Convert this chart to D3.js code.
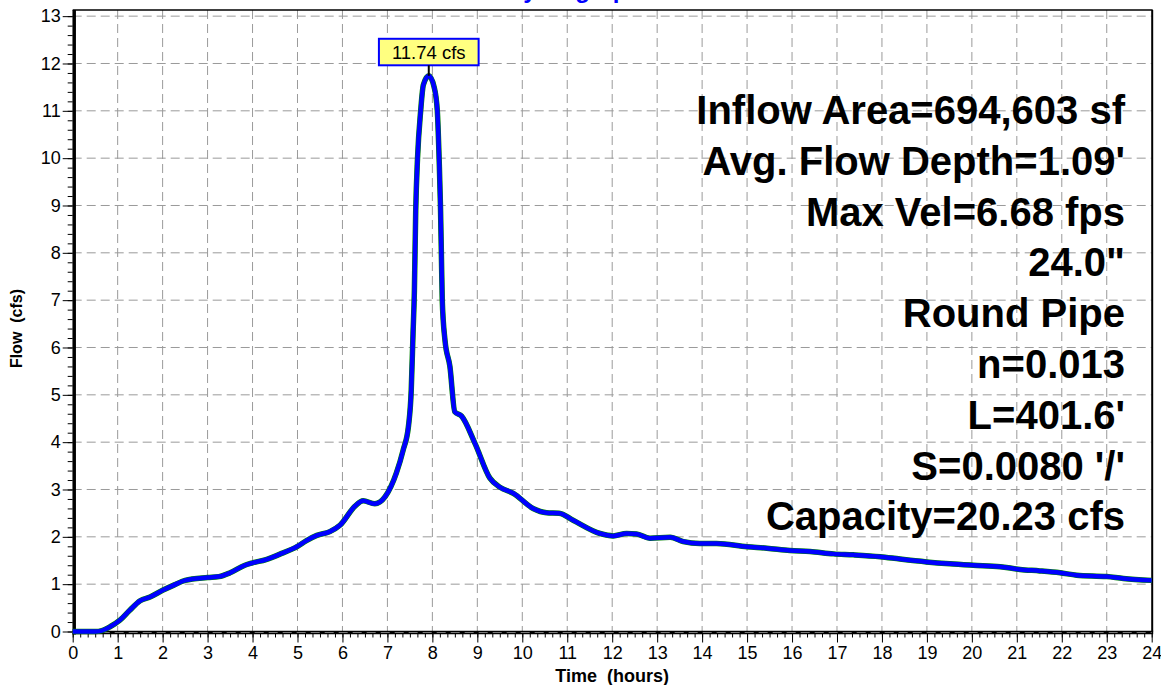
<!DOCTYPE html>
<html>
<head>
<meta charset="utf-8">
<script src="https://cdn.jsdelivr.net/npm/d3@7"></script>
<style>
  html, body { margin: 0; padding: 0; background: #fff; }
  svg { display: block; font-family: Arial, "Liberation Sans", sans-serif; }
</style>
</head>
<body>
<svg id="chart" width="1161" height="685"></svg>
<script>
// Reach hydrograph: time (hours) vs flow (cfs)
const timeHours = [0, 0.5, 0.65, 0.83, 1.05, 1.27, 1.5, 1.72, 2.0, 2.25, 2.5, 3.0, 3.25, 3.5, 3.83, 4.0, 4.3, 4.6, 5.0, 5.2,
  5.43, 5.72, 5.95, 6.28, 6.46, 6.72, 6.95, 7.2, 7.35, 7.47, 7.53, 7.57, 7.6, 7.63, 7.67, 7.74, 7.8, 7.92, 8.04, 8.11,
  8.15, 8.18, 8.2, 8.22, 8.28, 8.39, 8.5, 8.65, 8.95, 9.28, 9.5, 9.8, 10.24, 10.54, 10.82, 11.13, 11.73, 12.02, 12.32, 12.54,
  12.84, 13.29, 13.58, 13.95, 14.32, 15.0, 15.44, 15.95, 16.4, 16.92, 17.36, 17.96, 18.4, 18.99, 19.51, 20.03, 20.63, 21.07, 21.51, 21.96,
  22.33, 23.0, 23.37, 24.0];
const flowCfs = [0, 0, 0.02, 0.1, 0.24, 0.45, 0.65, 0.73, 0.87, 0.98, 1.08, 1.14, 1.16, 1.24, 1.40, 1.45, 1.52, 1.63, 1.80, 1.92,
  2.03, 2.11, 2.25, 2.65, 2.76, 2.70, 2.85, 3.35, 3.83, 4.35, 5.1, 6.3, 7.2, 8.9, 10.0, 11.0, 11.55, 11.74, 11.5, 11.0,
  10.0, 9.0, 8.0, 7.0, 6.16, 5.6, 4.64, 4.55, 3.97, 3.24, 3.05, 2.92, 2.6, 2.51, 2.50, 2.35, 2.07, 2.02, 2.07, 2.06,
  1.97, 1.99, 1.90, 1.86, 1.86, 1.79, 1.76, 1.71, 1.69, 1.64, 1.62, 1.58, 1.53, 1.47, 1.43, 1.40, 1.37, 1.31, 1.28, 1.24,
  1.19, 1.16, 1.12, 1.08];

const xTicks = d3.range(0, 25, 1);
const yTicks = d3.range(0, 14, 1);
const peakFlow = 11.74;
const peakTime = 7.92;
const peakLabel = "11.74 cfs";
const chartTitle = "Hydrograph";
const infoLines = [
  "Inflow Area=694,603 sf",
  "Avg. Flow Depth=1.09'",
  "Max Vel=6.68 fps",
  "24.0\"",
  "Round Pipe",
  "n=0.013",
  "L=401.6'",
  "S=0.0080 '/'",
  "Capacity=20.23 cfs"
];

const svg = d3.select("#chart");
const x = d3.scaleLinear().domain([0, 24]).range([72.7, 1151.7]);
const y = d3.scaleLinear().domain([0, 13.13]).range([631.5, 10]);
const [x0, x1] = x.range();
const [yb, yt] = y.range();

// title (mostly above the frame)
svg.append("text")
  .attr("x", 574).attr("y", -2)
  .attr("text-anchor", "middle")
  .attr("font-size", 24).attr("font-weight", "bold")
  .attr("fill", "#0000ff")
  .text(chartTitle);

// dashed grid
const grid = svg.append("g").attr("stroke", "#9a9a9a").attr("stroke-width", 1).attr("stroke-dasharray", "9,5");
grid.selectAll(".gv").data(xTicks.slice(1, -1)).join("line")
  .attr("x1", d => x(d)).attr("x2", d => x(d)).attr("y1", yt).attr("y2", yb);
grid.selectAll(".gh").data(yTicks).join("line")
  .attr("x1", x0).attr("x2", x1).attr("y1", d => y(d)).attr("y2", d => y(d));

// frame: thin top/right, heavy left/bottom
svg.append("line").attr("x1", x0).attr("x2", x1 + 1).attr("y1", yt).attr("y2", yt).attr("stroke", "#000").attr("stroke-width", 1.5);
svg.append("line").attr("x1", x1 + 0.5).attr("x2", x1 + 0.5).attr("y1", yt).attr("y2", yb).attr("stroke", "#000").attr("stroke-width", 2);

// axes
const axisFont = 18;
const yMinor = svg.append("g").attr("transform", `translate(${x0},0)`)
  .call(d3.axisLeft(y).tickValues(d3.range(0, 13.01, 0.2)).tickSize(5).tickFormat(""));
const yMajor = svg.append("g").attr("transform", `translate(${x0},0)`)
  .call(d3.axisLeft(y).tickValues(yTicks).tickSize(10).tickPadding(2).tickFormat(d3.format("d")));
const xMinor = svg.append("g").attr("transform", `translate(0,${yb + 2})`)
  .call(d3.axisBottom(x).tickValues(d3.range(0, 24.001, 1 / 6)).tickSize(4).tickFormat(""));
const xMajor = svg.append("g").attr("transform", `translate(0,${yb + 2})`)
  .call(d3.axisBottom(x).tickValues(xTicks).tickSize(9).tickPadding(4).tickFormat(d3.format("d")));
[yMinor, yMajor, xMinor, xMajor].forEach(g => {
  g.select(".domain").remove();
  g.selectAll(".tick line").attr("stroke", "#000").attr("stroke-width", 1);
  g.selectAll("text").attr("font-size", axisFont).attr("font-family", "Arial, 'Liberation Sans', sans-serif").attr("fill", "#000");
});

// heavy axis lines
svg.append("line").attr("x1", x0 + 1.5).attr("x2", x0 + 1.5).attr("y1", yt).attr("y2", yb + 3)
  .attr("stroke", "#000").attr("stroke-width", 3.5);
svg.append("line").attr("x1", x0).attr("x2", x1 + 1.5).attr("y1", yb + 1).attr("y2", yb + 1)
  .attr("stroke", "#000").attr("stroke-width", 3.5);
svg.append("line").attr("x1", x0).attr("x2", x1).attr("y1", yb + 1).attr("y2", yb + 1)
  .attr("stroke", "#777").attr("stroke-width", 1).attr("stroke-dasharray", "9,5");

// axis titles
svg.append("text")
  .attr("x", (x0 + x1) / 2).attr("y", 682)
  .attr("text-anchor", "middle").attr("font-size", 18).attr("font-weight", "bold")
  .attr("xml:space", "preserve").style("white-space", "pre")
  .text("Time  (hours)");
svg.append("text")
  .attr("transform", `translate(22,${y(6.4)}) rotate(-90)`)
  .attr("text-anchor", "middle").attr("font-size", 16).attr("font-weight", "bold")
  .attr("xml:space", "preserve").style("white-space", "pre")
  .text("Flow  (cfs)");

// info block
svg.append("g").selectAll("text").data(infoLines).join("text")
  .attr("x", 1125)
  .attr("y", (d, i) => 124 + i * 50.8)
  .attr("text-anchor", "end")
  .attr("font-size", 40).attr("font-weight", "bold").attr("fill", "#000")
  .text(d => d);

// hydrograph lines
const pts = timeHours.map((t, i) => [t, flowCfs[i]]);
const line = d3.line().x(d => x(d[0])).y(d => y(d[1])).curve(d3.curveMonotoneX);
svg.append("path").datum(pts).attr("d", line)
  .attr("fill", "none").attr("stroke", "#008000").attr("stroke-width", 5.5).attr("stroke-linejoin", "round");
svg.append("path").datum(pts).attr("d", line)
  .attr("fill", "none").attr("stroke", "#0000ff").attr("stroke-width", 4.5).attr("stroke-linejoin", "round");

// peak callout
const px = x(peakTime), py = y(peakFlow);
const boxBottom = py - 10.5;
const lbl = svg.append("g");
const lblText = lbl.append("text")
  .attr("x", px).attr("y", boxBottom - 6.5)
  .attr("text-anchor", "middle").attr("font-size", 18.5).attr("fill", "#000")
  .text(peakLabel);
const bb = lblText.node().getBBox();
lbl.insert("rect", "text")
  .attr("x", bb.x - 13).attr("y", boxBottom - 26.5)
  .attr("width", bb.width + 26).attr("height", 26.5)
  .attr("fill", "#ffff80").attr("stroke", "#0000ff").attr("stroke-width", 2);
svg.append("line").attr("x1", px).attr("x2", px).attr("y1", boxBottom).attr("y2", py)
  .attr("stroke", "#000").attr("stroke-width", 2);
</script>
</body>
</html>
